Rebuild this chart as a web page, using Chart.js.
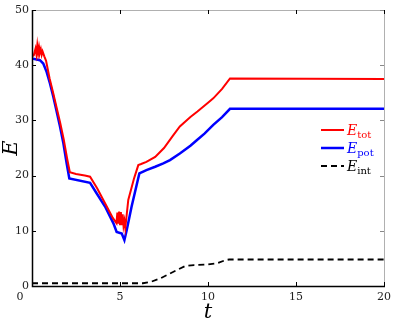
<!DOCTYPE html>
<html lang="en">
<head>
  <meta charset="UTF-8">
  <script src="https://cdn.jsdelivr.net/npm/chart.js"></script>
  <title>Energia</title>
  <style>
    html, body { margin: 0; padding: 0; background: #fff; }
    #wrap { width: 400px; height: 327px; }
  </style>
</head>
<body>
  <div id="wrap"><canvas id="myChart" width="400" height="327"></canvas></div>

<script>
// valores
var tTot = [0, 0.1, 0.2, 0.25, 0.3, 0.35, 0.4, 0.45, 0.5, 0.55, 0.6, 0.7, 0.8, 1.0, 1.2, 1.4, 1.6, 1.8, 2.0, 2.15, 2.5, 3.0, 3.3, 3.7, 4.15, 4.6, 4.8, 4.85, 4.9, 4.95, 5.0, 5.05, 5.1, 5.15, 5.2, 5.25, 5.3, 5.47, 5.8, 6.04, 6.2, 6.5, 7.0, 7.5, 8.0, 8.4, 9.0, 9.4, 10.0, 10.3, 10.8, 11.25, 20]
var eTot = [41.6, 41.8, 43.0, 42.0, 43.6, 42.2, 43.3, 42.3, 42.9, 41.9, 42.5, 41.6, 40.8, 37.6, 35.0, 32.3, 29.6, 26.6, 23.0, 20.6, 20.3, 20.0, 19.8, 17.7, 15.0, 12.3, 11.4, 13.3, 11.3, 13.5, 11.2, 13.4, 11.0, 13.0, 10.9, 11.8, 10.5, 15.6, 19.5, 21.9, 22.1, 22.5, 23.4, 25.0, 27.2, 28.9, 30.6, 31.6, 33.2, 34.0, 35.7, 37.6, 37.5]

var tPot = [0, 0.45, 0.64, 0.83, 1.02, 1.21, 1.4, 1.59, 1.78, 1.97, 2.12, 3.3, 3.67, 4.15, 4.62, 4.81, 5.1, 5.25, 5.38, 5.66, 6.1, 6.5, 7.0, 7.46, 7.84, 8.4, 9.0, 9.36, 9.8, 10.3, 10.8, 11.25, 20]
var ePot = [41.2, 40.9, 40.3, 38.8, 36.7, 34.3, 31.6, 28.9, 25.9, 22.2, 19.5, 18.7, 16.8, 14.4, 11.4, 9.8, 9.5, 8.3, 10.1, 14.4, 20.4, 21.0, 21.6, 22.2, 22.8, 24.0, 25.4, 26.4, 27.6, 29.2, 30.6, 32.1, 32.1]

var tInt = [0, 6.3, 6.8, 7.3, 7.8, 8.3, 8.7, 9.2, 10.0, 10.5, 11.0, 11.2, 20]
var eInt = [0.5, 0.5, 0.8, 1.4, 2.2, 3.0, 3.6, 3.8, 3.9, 4.1, 4.7, 4.8, 4.8]

var xTicks = [0, 5, 10, 15, 20]
var yTicks = [0, 10, 20, 30, 40, 50]

var legendas = [
  { base: 'E', sub: 'tot', cor: 'rgb(255, 0, 0)' },
  { base: 'E', sub: 'pot', cor: 'rgb(0, 0, 255)' },
  { base: 'E', sub: 'int', cor: 'rgb(0, 0, 0)' }
]

function pares(ts, es) {
  var out = []
  for (var i = 0; i < ts.length; i++) {
    out.push({ x: ts[i], y: es[i] })
  }
  return out
}

var fonteTick = '11px "DejaVu Serif"'

// caixa, ticks para dentro, titulos e legenda
var moldura = {
  id: 'moldura',
  afterDraw: function (chart) {
    var ctx = chart.ctx
    var a = chart.chartArea
    var sx = chart.scales.x
    var sy = chart.scales.y
    ctx.save()

    // lados cinza
    ctx.strokeStyle = '#b0b0b0'
    ctx.lineWidth = 1
    ctx.beginPath()
    ctx.moveTo(a.left, a.top + 0.5)
    ctx.lineTo(a.right + 0.5, a.top + 0.5)
    ctx.lineTo(a.right + 0.5, a.bottom)
    ctx.stroke()

    // ticks
    ctx.strokeStyle = '#000'
    xTicks.forEach(function (v) {
      var px = Math.round(sx.getPixelForValue(v)) + 0.5
      ctx.beginPath()
      ctx.moveTo(px, a.bottom); ctx.lineTo(px, a.bottom - 4)
      ctx.moveTo(px, a.top); ctx.lineTo(px, a.top + 4)
      ctx.stroke()
    })
    yTicks.forEach(function (v) {
      var py = Math.round(sy.getPixelForValue(v)) + 0.5
      ctx.strokeStyle = '#000'
      ctx.beginPath()
      ctx.moveTo(a.left, py); ctx.lineTo(a.left + 4, py)
      ctx.stroke()
      ctx.strokeStyle = '#888'
      ctx.beginPath()
      ctx.moveTo(a.right, py); ctx.lineTo(a.right - 4, py)
      ctx.stroke()
    })

    // eixos preto
    ctx.strokeStyle = '#000'
    ctx.lineWidth = 1.5
    ctx.beginPath()
    ctx.moveTo(a.left + 0.5, a.top)
    ctx.lineTo(a.left + 0.5, a.bottom + 0.5)
    ctx.lineTo(a.right + 1, a.bottom + 0.5)
    ctx.stroke()

    // "0" do eixo x deslocado
    ctx.fillStyle = '#222'
    ctx.font = fonteTick
    ctx.textAlign = 'center'
    ctx.textBaseline = 'middle'
    ctx.fillText('0', sx.getPixelForValue(0) - 12, a.bottom + 11)

    // titulos
    ctx.font = 'italic 21px "DejaVu Serif"'
    ctx.fillStyle = '#000'
    ctx.fillText('t', (a.left + a.right) / 2, a.bottom + 27)
    ctx.save()
    ctx.translate(12, (a.top + a.bottom) / 2)
    ctx.rotate(-Math.PI / 2)
    ctx.fillText('E', 0, 0)
    ctx.restore()

    // legenda
    var lx = a.left + 289
    var ly = a.top + 120
    legendas.forEach(function (item, i) {
      var ds = chart.data.datasets[i]
      var y = ly + i * 18
      ctx.strokeStyle = ds.borderColor
      ctx.lineWidth = ds.borderWidth
      ctx.setLineDash(ds.borderDash || [])
      ctx.beginPath()
      ctx.moveTo(lx, y); ctx.lineTo(lx + 23, y)
      ctx.stroke()
      ctx.setLineDash([])
      ctx.fillStyle = item.cor
      ctx.textAlign = 'left'
      ctx.textBaseline = 'alphabetic'
      ctx.font = 'italic 14px "DejaVu Serif"'
      ctx.fillText(item.base, lx + 26, y + 5)
      var w = ctx.measureText(item.base).width
      ctx.font = '10px "DejaVu Serif"'
      ctx.fillText(item.sub, lx + 26 + w, y + 8)
    })

    ctx.restore()
  }
}

var config = {
  type: 'line',
  data: {
    datasets: [{
      label: 'Etot',
      data: pares(tTot, eTot),
      borderColor: 'rgb(255, 0, 0)',
      borderWidth: 2,
      pointRadius: 0,
      tension: 0,
      fill: false
    }, {
      label: 'Epot',
      data: pares(tPot, ePot),
      borderColor: 'rgb(0, 0, 255)',
      borderWidth: 2.5,
      pointRadius: 0,
      tension: 0,
      fill: false
    }, {
      label: 'Eint',
      data: pares(tInt, eInt),
      borderColor: 'rgb(0, 0, 0)',
      borderWidth: 1.8,
      borderDash: [6, 4],
      pointRadius: 0,
      tension: 0,
      fill: false
    }]
  },
  options: {
    responsive: false,
    animation: false,
    layout: { padding: { top: 10, right: 16, left: 0, bottom: 0 } },
    plugins: {
      legend: { display: false },
      tooltip: { enabled: false }
    },
    scales: {
      x: {
        type: 'linear',
        min: 0,
        max: 20,
        afterFit: function (s) { s.height = 41 },
        afterBuildTicks: function (s) { s.ticks = xTicks.map(function (v) { return { value: v } }) },
        grid: { display: false, drawTicks: false },
        border: { display: false },
        ticks: {
          padding: 5,
          color: '#222',
          font: { family: 'DejaVu Serif', size: 11 },
          callback: function (v) { return v === 0 ? '' : v }
        }
      },
      y: {
        min: 0,
        max: 50,
        afterFit: function (s) { s.width = 32 },
        afterBuildTicks: function (s) { s.ticks = yTicks.map(function (v) { return { value: v } }) },
        grid: { display: false, drawTicks: false },
        border: { display: false },
        ticks: {
          padding: 3,
          color: '#222',
          font: { family: 'DejaVu Serif', size: 11 }
        }
      }
    }
  },
  plugins: [moldura]
}

var myChart = new Chart(document.getElementById('myChart'), config)
</script>
</body>
</html>
